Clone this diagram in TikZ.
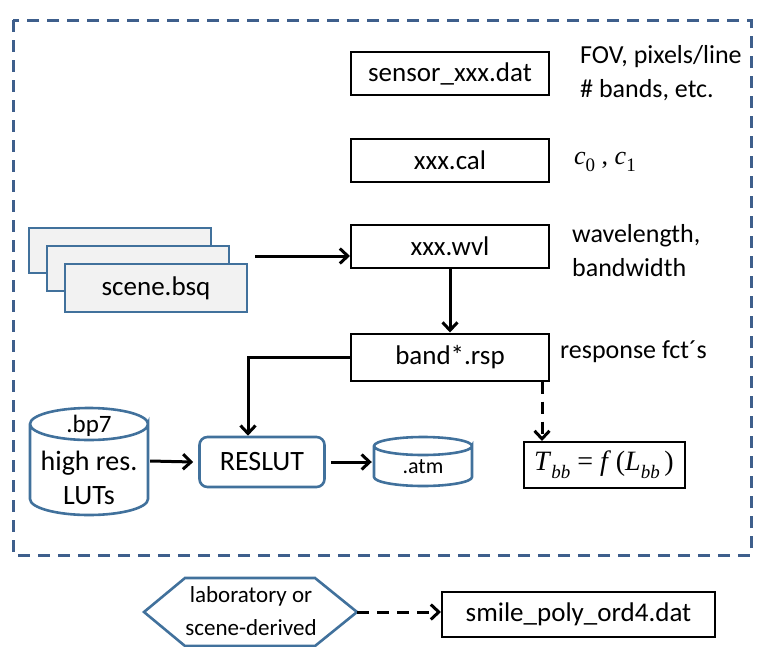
\documentclass[tikz,border=0pt]{standalone}
\usepackage{fontspec}
\setmainfont{Carlito}
\newfontfamily\tms{Liberation Serif}
\usetikzlibrary{arrows.meta,calc}
\definecolor{obl}{HTML}{41719C}
\definecolor{dbl}{HTML}{3E5F8C}
\definecolor{gfill}{HTML}{F2F2F2}
\newcommand{\sbs}[1]{\raisebox{-0.28em}{\fontsize{19}{20}\selectfont\textit{#1}}}
\newcommand{\sbu}[1]{\raisebox{-0.28em}{\fontsize{19}{20}\selectfont\textup{#1}}}
\tikzset{
  x=1pt,y=-1pt,
  fbox/.style={draw=black,line width=2pt,minimum width=198pt,minimum height=43pt,inner sep=0pt,font=\fontsize{27}{30}\selectfont},
  sbox/.style={draw=obl,fill=gfill,line width=2.6pt,minimum width=182pt,minimum height=46pt,inner sep=0pt,font=\fontsize{27}{30}\selectfont},
  lbl/.style={anchor=west,inner sep=0pt,font=\fontsize{26}{28}\selectfont},
  arr/.style={line width=3pt,-{Straight Barb[length=8pt,width=15pt,line width=3pt]}},
  ghost/.style={inner sep=0pt}
}
\begin{document}
\begin{tikzpicture}
\useasboundingbox (0,0) rectangle (763,646);
% dashed frame
\draw[dbl,line width=3pt,dash pattern=on 12pt off 8pt] (13,20) rectangle (751,555);
% right column boxes
\node[fbox] (sensor) at (450,73.5) {sensor\_xxx.dat};
\node[fbox] (cal) at (450,160) {xxx.cal};
\node[fbox] (wvl) at (450,246.5) {xxx.wvl};
\node[fbox,minimum height=47pt] (band) at (450,357) {band*.rsp};
\node[lbl] at (580,57) {FOV, pixels/line};
\node[lbl] at (580,90) {\# bands, etc.};
\node[lbl] at (574,162) {\tms\textit{c}\sbu{0} , \textit{c}\sbu{1}};
\node[lbl] at (572,236) {wavelength,};
\node[lbl] at (572,268) {bandwidth};
\node[lbl] at (560,352) {response fct´s};
% scene stack
\node[sbox,minimum height=45pt] (s1) at (120,250.5) {};
\node[sbox,minimum height=45pt] (s2) at (138,268.5) {};
\node[sbox,minimum height=48pt] (scene) at (156,288) {scene.bsq};
% arrows
\coordinate (sa) at (255,256);
\draw[arr] (sa) -- (sa -| wvl.west);
\draw[arr] (wvl.south) -- (band.north);
% RESLUT
\node[draw=obl,line width=2.6pt,rounded corners=8pt,minimum width=125pt,minimum height=50pt,inner sep=0pt,font=\fontsize{28}{30}\selectfont] (reslut) at (262,462) {RESLUT};
\coordinate (bend) at (248,357);
\draw[arr] (band.west) -- (bend) -- (bend |- reslut.north);
% Tbb
\node[draw=black,line width=2pt,minimum width=161pt,minimum height=46pt,inner sep=0pt,font=\fontsize{28}{30}\selectfont\tms] (tbb) at (604,465) {\textit{T}\sbs{bb} = \textit{f}\,(\textit{L}\sbs{bb}\,)};
\coordinate (dtop) at ([xshift=-8pt]band.south east);
\draw[arr,dash pattern=on 12pt off 8pt] (dtop) -- (dtop |- tbb.north);
% LUT cylinder
\draw[obl,line width=2.6pt] (30,424) -- (30,499) arc[start angle=180,end angle=0,x radius=59,y radius=16] -- (148,424) arc[start angle=0,end angle=360,x radius=59,y radius=16];
\node[ghost,minimum width=118pt,minimum height=107pt] (lut) at (89,461) {};
\node[font=\fontsize{25}{28}\selectfont,inner sep=0pt] at (89,426) {.bp7};
\node[font=\fontsize{28}{30}\selectfont,inner sep=0pt] at (89,463) {high res.};
\node[font=\fontsize{28}{30}\selectfont,inner sep=0pt] at (89,496) {LUTs};
% atm cylinder
\draw[obl,line width=2.6pt] (374,446) -- (374,477) arc[start angle=180,end angle=0,x radius=49,y radius=9] -- (472,446) arc[start angle=0,end angle=360,x radius=49,y radius=9];
\node[ghost,minimum width=98pt,minimum height=50pt] (atm) at (423,462) {};
\node[font=\fontsize{22}{24}\selectfont,inner sep=0pt] at (423,467) {.atm};
\draw[arr] ([xshift=2pt]lut.east) -- ([xshift=-5pt]reslut.west);
\draw[arr] ([xshift=5pt]reslut.east) -- ([xshift=-2pt]atm.west);
% hexagon
\draw[obl,line width=2.6pt] (144,612) -- (185,578) -- (315,578) -- (357,612) -- (315,646) -- (185,646) -- cycle;
\node[ghost,minimum width=213pt,minimum height=68pt] (hex) at (250.5,612) {};
\node[font=\fontsize{23}{24}\selectfont,inner sep=0pt] at (251,596) {laboratory or};
\node[font=\fontsize{23}{24}\selectfont,inner sep=0pt] at (251,628) {scene-derived};
\node[draw=black,line width=2pt,minimum width=273pt,minimum height=45pt,inner sep=0pt,font=\fontsize{27}{30}\selectfont] (smile) at (578.5,614.5) {smile\_poly\_ord4.dat};
\draw[arr,dash pattern=on 12pt off 8pt] (hex.east) -- (smile.west |- hex.east);
\end{tikzpicture}
\end{document}
